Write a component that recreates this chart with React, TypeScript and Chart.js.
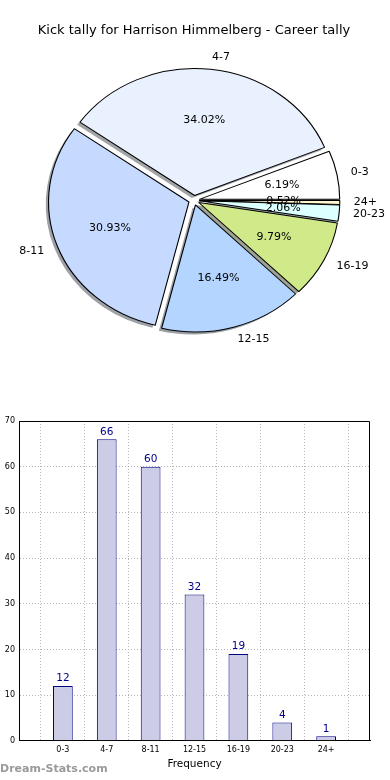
import React, { useEffect, useRef } from 'react';
import { Chart, registerables } from 'chart.js';

Chart.register(...registerables);

const TITLE = 'Kick tally for Harrison Himmelberg - Career tally';
const CATEGORIES = ['0-3', '4-7', '8-11', '12-15', '16-19', '20-23', '24+'];
const COUNTS = [12, 66, 60, 32, 19, 4, 1];
const PIE_COLORS = ['#ffffff', '#eaf1fe', '#c6d9ff', '#b4d5ff', '#d0ea8a', '#dcffff', '#fff5d0'];
const Y_MAX = 70;
const Y_STEP = 10;
const X_TITLE = 'Frequency';
const WATERMARK = 'Dream-Stats.com';

const FONT = '"DejaVu Sans", sans-serif';
const PIE_RADIUS = 127;
const PIE_SX = 1.106;
const EXPLODE = 0.038;
const SHADOW = 0.02;
const PCT_DIST = 0.6;
const LABEL_DIST = 1.1;

function shadowOf(hex: string): string {
  const h = hex.replace('#', '');
  const r = parseInt(h.slice(0, 2), 16);
  const g = parseInt(h.slice(2, 4), 16);
  const b = parseInt(h.slice(4, 6), 16);
  return `rgba(${Math.round(r * 0.3)},${Math.round(g * 0.3)},${Math.round(b * 0.3)},0.5)`;
}

const piePlugin = {
  id: 'pieStyle',
  afterDatasetsUpdate(chart: any) {
    const meta = chart.getDatasetMeta(0);
    meta.data.forEach((el: any) => {
      const mid = (el.startAngle + el.endAngle) / 2;
      const d = EXPLODE * el.outerRadius;
      el.x += Math.cos(mid) * d;
      el.y += Math.sin(mid) * d;
    });
  },
  beforeDatasetsDraw(chart: any) {
    const { ctx, chartArea } = chart;
    const cx = (chartArea.left + chartArea.right) / 2;
    ctx.save();
    ctx.translate(cx, 0);
    ctx.scale(PIE_SX, 1);
    ctx.translate(-cx, 0);
    const meta = chart.getDatasetMeta(0);
    const colors = chart.data.datasets[0].backgroundColor as string[];
    meta.data.forEach((el: any, i: number) => {
      const r = el.outerRadius;
      const sx = el.x - SHADOW * r;
      const sy = el.y + SHADOW * r;
      ctx.beginPath();
      ctx.moveTo(sx, sy);
      ctx.arc(sx, sy, r, el.startAngle, el.endAngle);
      ctx.closePath();
      ctx.fillStyle = shadowOf(colors[i]);
      ctx.fill();
    });
  },
  afterDatasetsDraw(chart: any) {
    const { ctx, chartArea } = chart;
    ctx.restore();
    const cx = (chartArea.left + chartArea.right) / 2;
    const mapX = (x: number) => cx + (x - cx) * PIE_SX;
    const meta = chart.getDatasetMeta(0);
    const data = chart.data.datasets[0].data as number[];
    const labels = chart.data.labels as string[];
    const total = data.reduce((a, b) => a + b, 0);
    ctx.save();
    ctx.fillStyle = '#000';
    ctx.font = `11px ${FONT}`;
    ctx.textBaseline = 'middle';
    meta.data.forEach((el: any, i: number) => {
      const mid = (el.startAngle + el.endAngle) / 2;
      const r = el.outerRadius;
      const c = Math.cos(mid);
      const s = Math.sin(mid);
      const px = mapX(el.x + PCT_DIST * r * c);
      const py = el.y + PCT_DIST * r * s;
      ctx.textAlign = 'center';
      ctx.fillText(((data[i] / total) * 100).toFixed(2) + '%', px, py);
      const lx = mapX(el.x + LABEL_DIST * r * c);
      const ly = el.y + LABEL_DIST * r * s;
      ctx.textAlign = lx >= cx ? 'left' : 'right';
      ctx.fillText(labels[i], lx, ly);
    });
    ctx.restore();
  },
};

const barPlugin = {
  id: 'barStyle',
  afterDraw(chart: any) {
    const { ctx, chartArea } = chart;
    ctx.save();
    ctx.strokeStyle = '#000';
    ctx.lineWidth = 1;
    const top = Math.round(chartArea.top) + 0.5;
    const right = Math.round(chartArea.right) - 0.5;
    ctx.beginPath();
    ctx.moveTo(chartArea.left, top);
    ctx.lineTo(right, top);
    ctx.lineTo(right, chartArea.bottom);
    ctx.stroke();
    const meta = chart.getDatasetMeta(0);
    const data = chart.data.datasets[0].data as (number | null)[];
    ctx.fillStyle = '#00008b';
    ctx.font = `10.5px ${FONT}`;
    ctx.textAlign = 'center';
    ctx.textBaseline = 'bottom';
    meta.data.forEach((el: any, i: number) => {
      const v = data[i];
      if (v === null || v === undefined) return;
      ctx.fillText(String(v), el.x, el.y - 2);
    });
    ctx.restore();
  },
};

export default function App() {
  const pieRef = useRef<HTMLCanvasElement | null>(null);
  const barRef = useRef<HTMLCanvasElement | null>(null);

  useEffect(() => {
    const revCats = [...CATEGORIES].reverse();
    const revCounts = [...COUNTS].reverse();
    const revColors = [...PIE_COLORS].reverse();
    const pie = new Chart(pieRef.current as HTMLCanvasElement, {
      type: 'pie',
      data: {
        labels: revCats,
        datasets: [
          {
            data: revCounts,
            backgroundColor: revColors,
            borderColor: '#000',
            borderWidth: 1,
            radius: PIE_RADIUS,
            clip: false,
            hoverOffset: 0,
          } as any,
        ],
      },
      options: {
        animation: false,
        responsive: false,
        events: [],
        rotation: 90,
        layout: { padding: { left: 0, right: 2, top: 0, bottom: 38 } },
        plugins: {
          legend: { display: false },
          tooltip: { enabled: false },
          title: {
            display: true,
            text: TITLE,
            color: '#000',
            font: { family: FONT, size: 13, weight: 'normal' },
            padding: { top: 23, bottom: 0 },
          },
        },
      } as any,
      plugins: [piePlugin],
    });

    const barLabels = ['', ...CATEGORIES, ''];
    const barData = [null, ...COUNTS, null];
    const gridOpts = { color: '#b5b5b5', lineWidth: 1, drawTicks: false };
    const borderOpts = { display: true, color: '#000', width: 1, dash: [1, 2] };
    const bar = new Chart(barRef.current as HTMLCanvasElement, {
      type: 'bar',
      data: {
        labels: barLabels,
        datasets: [
          {
            data: barData,
            backgroundColor: '#ccccE6',
            borderColor: '#000080',
            borderWidth: 1,
            barPercentage: 0.45,
            categoryPercentage: 1,
          } as any,
        ],
      },
      options: {
        animation: false,
        responsive: false,
        events: [],
        layout: { padding: { top: 21, right: 20, left: 0, bottom: 9 } },
        plugins: { legend: { display: false }, tooltip: { enabled: false } },
        scales: {
          x: {
            type: 'category',
            offset: false,
            z: 1,
            grid: gridOpts,
            border: borderOpts,
            ticks: {
              font: { family: FONT, size: 8 },
              color: '#000',
              padding: 4,
              autoSkip: false,
              maxRotation: 0,
            },
            title: {
              display: true,
              text: X_TITLE,
              color: '#000',
              font: { family: FONT, size: 10.5 },
              padding: { top: 0, bottom: 0 },
            },
          },
          y: {
            min: 0,
            max: Y_MAX,
            z: 1,
            grid: gridOpts,
            border: borderOpts,
            ticks: { stepSize: Y_STEP, font: { family: FONT, size: 8 }, color: '#000', padding: 4 },
            afterFit: (s: any) => {
              s.width = 19;
            },
          },
        },
      } as any,
      plugins: [barPlugin],
    });

    return () => {
      pie.destroy();
      bar.destroy();
    };
  }, []);

  return (
    <div style={{ position: 'absolute', left: 0, top: 0, width: 390, height: 780, background: '#fff' }}>
      <canvas
        ref={pieRef}
        width={390}
        height={400}
        style={{ position: 'absolute', left: 0, top: 0, width: 390, height: 400 }}
      />
      <canvas
        ref={barRef}
        width={390}
        height={380}
        style={{ position: 'absolute', left: 0, top: 400, width: 390, height: 380 }}
      />
      <div
        style={{
          position: 'absolute',
          left: 0,
          top: 762,
          font: `bold 11px ${FONT}`,
          color: '#9a9a9a',
          whiteSpace: 'nowrap',
        }}
      >
        {WATERMARK}
      </div>
    </div>
  );
}
